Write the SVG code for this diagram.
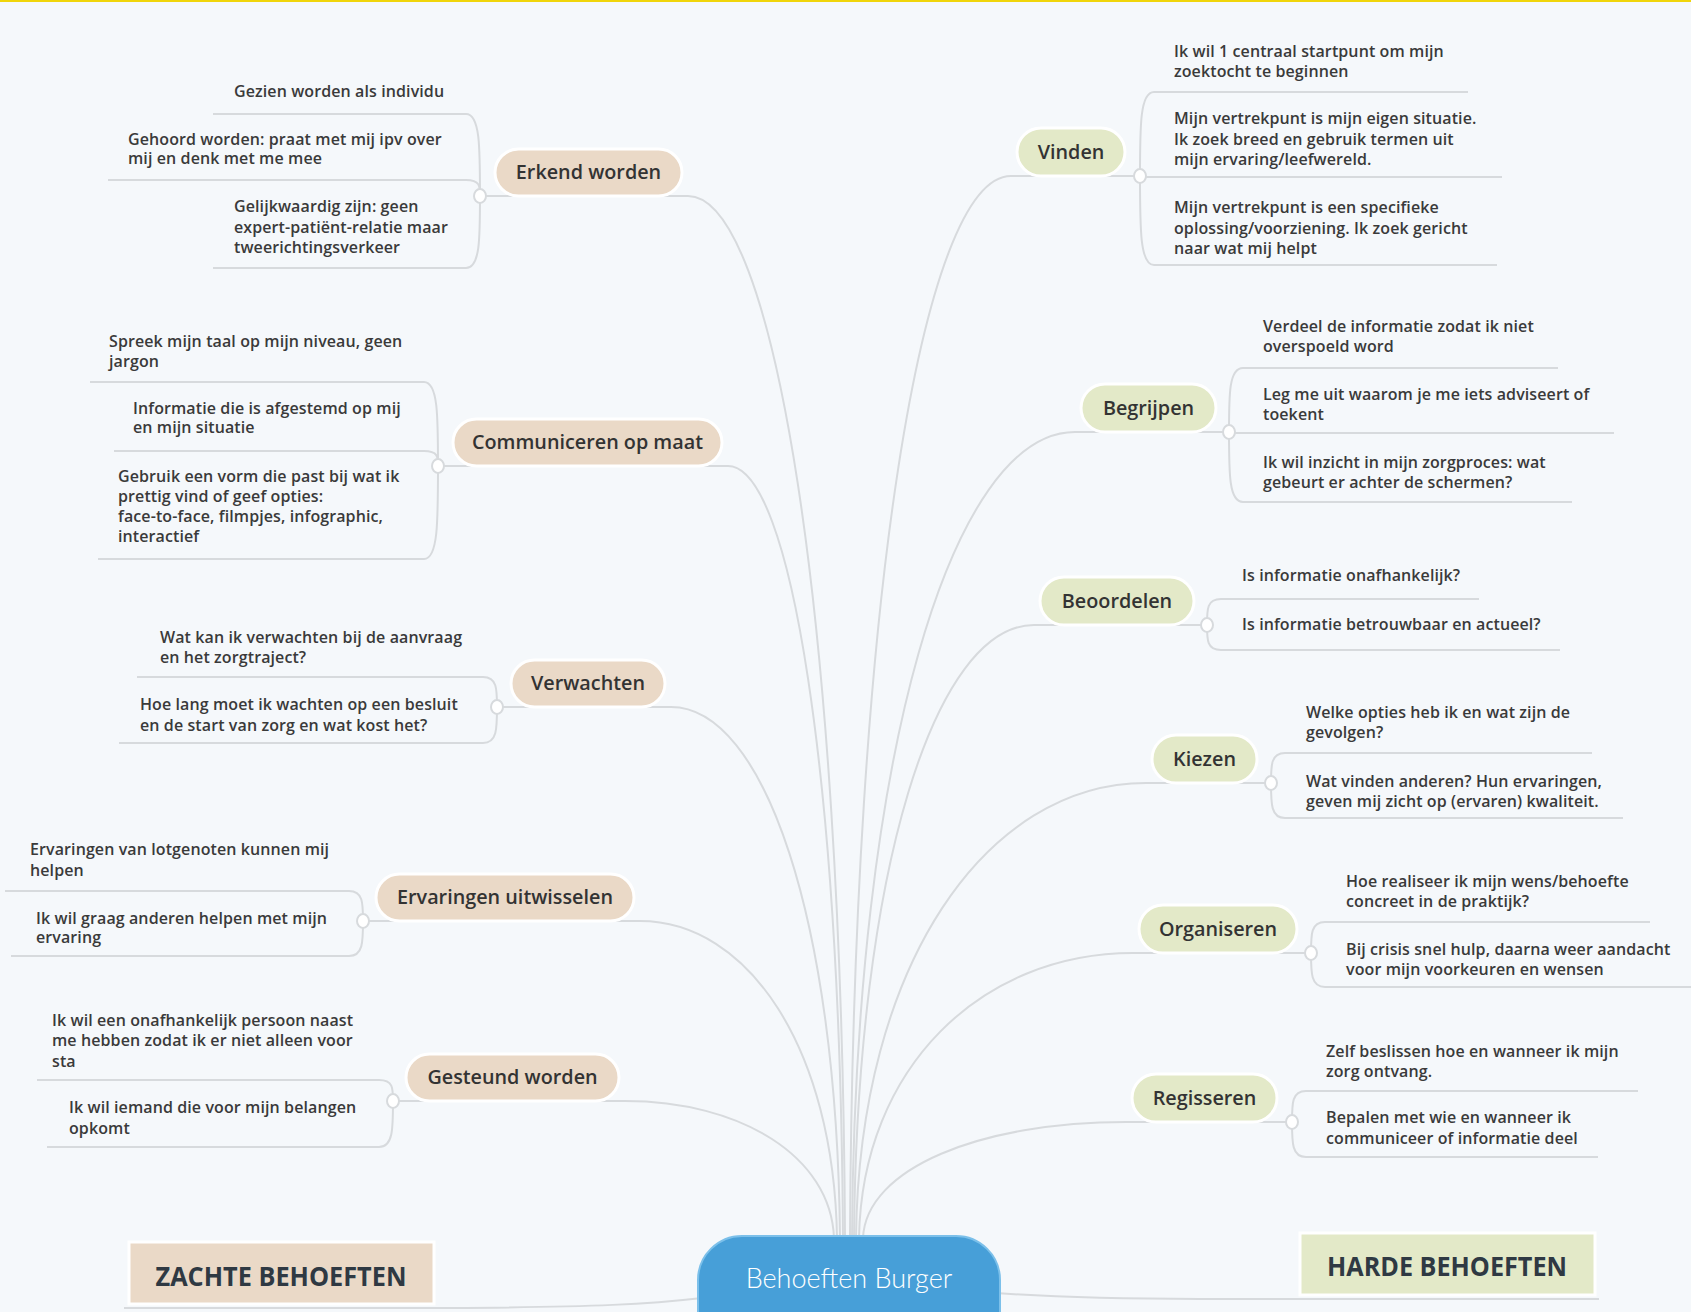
<svg xmlns="http://www.w3.org/2000/svg" width="1691" height="1312" viewBox="0 0 1691 1312">
<style>
.conn{fill:none;stroke:#d7dadd;stroke-width:2}
.dot{fill:#ffffff;stroke:#d7dadd;stroke-width:2}
.sub{font-family:"Open Sans","Liberation Sans",sans-serif;font-weight:600;font-size:16px;letter-spacing:0.1px;fill:#3a3a3a}
.soft{fill:#ead9c7;stroke:#ffffff;stroke-width:3}
.hard{fill:#e3e9c8;stroke:#ffffff;stroke-width:3}
.nt{font-family:"Open Sans","Liberation Sans",sans-serif;font-weight:600;font-size:19.8px;fill:#333333;text-anchor:middle}
.big{font-family:"Open Sans","Liberation Sans",sans-serif;font-weight:700;font-size:26px;fill:#2f3943;text-anchor:middle}
.root{font-family:Lato,"Open Sans",sans-serif;font-weight:300;font-size:27px;fill:#ffffff;text-anchor:middle}
</style>
<rect x="0" y="0" width="1691" height="1312" fill="#f5f8fb"/>
<rect x="0" y="0" width="1691" height="2" fill="#f0d50a"/>

<g id="connectors">
  <path class="conn" d="M480,196 H688 C774,196 842,613 845,1238"/>
  <path class="conn" d="M438,466 H728 C791,466 840,775 843,1238"/>
  <path class="conn" d="M497,707 H671 C764,707 837,919 840,1238"/>
  <path class="conn" d="M363,921 H640 C748,921 834,1048 837,1238"/>
  <path class="conn" d="M393,1101 H625 C740,1101 831,1156 834,1238"/>
  <path class="conn" d="M1140,176 H1011 C922,176 853,601 850,1238"/>
  <path class="conn" d="M1229,432 H1075 C952,432 855,754 852,1238"/>
  <path class="conn" d="M1207,625 H1034 C935,625 857,870 854,1238"/>
  <path class="conn" d="M1271,783 H1146 C986,783 859,965 856,1238"/>
  <path class="conn" d="M1311,953 H1133 C982,953 862,1067 859,1238"/>
  <path class="conn" d="M1292,1122 H1126 C981,1122 866,1168 863,1238"/>
  <path class="conn" d="M702,1298 C650,1304 600,1307 450,1308 H124"/>
  <path class="conn" d="M996,1293 C1050,1297 1100,1299 1200,1299 H1599"/>
  <path class="conn" d="M480,196 C480,147 480,114 466,114 H213"/>
  <path class="conn" d="M480,196 C480,186 480,180 466,180 H108"/>
  <path class="conn" d="M480,196 C480,239 480,268 466,268 H213"/>
  <path class="conn" d="M438,466 C438,416 438,382 424,382 H90"/>
  <path class="conn" d="M438,466 C438,457 438,451 424,451 H114"/>
  <path class="conn" d="M438,466 C438,522 438,559 424,559 H98"/>
  <path class="conn" d="M497,707 C497,689 497,677 483,677 H137"/>
  <path class="conn" d="M497,707 C497,729 497,743 483,743 H119"/>
  <path class="conn" d="M363,921 C363,903 363,891 349,891 H5"/>
  <path class="conn" d="M363,921 C363,942 363,956 349,956 H11"/>
  <path class="conn" d="M393,1101 C393,1088 393,1080 379,1080 H37"/>
  <path class="conn" d="M393,1101 C393,1129 393,1147 379,1147 H47"/>
  <path class="conn" d="M1140,176 C1140,126 1140,92 1154,92 H1468"/>
  <path class="conn" d="M1140,177 H1502"/>
  <path class="conn" d="M1140,176 C1140,229 1140,265 1154,265 H1497"/>
  <path class="conn" d="M1229,432 C1229,394 1229,368 1243,368 H1558"/>
  <path class="conn" d="M1229,433 H1614"/>
  <path class="conn" d="M1229,432 C1229,474 1229,502 1243,502 H1572"/>
  <path class="conn" d="M1207,625 C1207,609 1207,599 1221,599 H1479"/>
  <path class="conn" d="M1207,625 C1207,640 1207,650 1221,650 H1560"/>
  <path class="conn" d="M1271,783 C1271,765 1271,753 1285,753 H1592"/>
  <path class="conn" d="M1271,783 C1271,804 1271,818 1285,818 H1623"/>
  <path class="conn" d="M1311,953 C1311,934 1311,922 1325,922 H1650"/>
  <path class="conn" d="M1311,953 C1311,973 1311,987 1325,987 H1691"/>
  <path class="conn" d="M1292,1122 C1292,1103 1292,1091 1306,1091 H1638"/>
  <path class="conn" d="M1292,1122 C1292,1143 1292,1157 1306,1157 H1598"/>
  <ellipse class="dot" cx="480" cy="196" rx="6" ry="7"/>
  <ellipse class="dot" cx="438" cy="466" rx="6" ry="7"/>
  <ellipse class="dot" cx="497" cy="707" rx="6" ry="7"/>
  <ellipse class="dot" cx="363" cy="921" rx="6" ry="7"/>
  <ellipse class="dot" cx="393" cy="1101" rx="6" ry="7"/>
  <ellipse class="dot" cx="1140" cy="176" rx="6" ry="7"/>
  <ellipse class="dot" cx="1229" cy="432" rx="6" ry="7"/>
  <ellipse class="dot" cx="1207" cy="625" rx="6" ry="7"/>
  <ellipse class="dot" cx="1271" cy="783" rx="6" ry="7"/>
  <ellipse class="dot" cx="1311" cy="953" rx="6" ry="7"/>
  <ellipse class="dot" cx="1292" cy="1122" rx="6" ry="7"/>
</g>

<g id="root">
  <rect x="698" y="1236" width="302" height="120" rx="44" fill="#479fd8" stroke="#7cc0ea" stroke-width="2"/>
  <text class="root" x="849" y="1288">Behoeften Burger</text>
</g>

<g id="erkend-worden"><rect class="soft" x="495" y="149" width="187" height="47" rx="23.5"/><text class="nt" x="588.5" y="179">Erkend worden</text></g>
<g id="communiceren-op-maat"><rect class="soft" x="453" y="419" width="269" height="47" rx="23.5"/><text class="nt" x="587.5" y="449">Communiceren op maat</text></g>
<g id="verwachten"><rect class="soft" x="511" y="660" width="154" height="47" rx="23.5"/><text class="nt" x="588" y="690">Verwachten</text></g>
<g id="ervaringen-uitwisselen"><rect class="soft" x="376" y="874" width="258" height="47" rx="23.5"/><text class="nt" x="505" y="904">Ervaringen uitwisselen</text></g>
<g id="gesteund-worden"><rect class="soft" x="406" y="1054" width="213" height="47" rx="23.5"/><text class="nt" x="512.5" y="1084">Gesteund worden</text></g>
<g id="zachte-behoeften"><rect class="soft" x="129" y="1242" width="305" height="62"/><text class="big" x="281" y="1286" textLength="251" lengthAdjust="spacingAndGlyphs">ZACHTE BEHOEFTEN</text></g>

<g id="vinden"><rect class="hard" x="1017" y="128" width="108" height="48" rx="24"/><text class="nt" x="1071" y="159">Vinden</text></g>
<g id="begrijpen"><rect class="hard" x="1081" y="384" width="135" height="48" rx="24"/><text class="nt" x="1148.5" y="415">Begrijpen</text></g>
<g id="beoordelen"><rect class="hard" x="1040" y="577" width="154" height="48" rx="24"/><text class="nt" x="1117" y="608">Beoordelen</text></g>
<g id="kiezen"><rect class="hard" x="1152" y="735" width="105" height="48" rx="24"/><text class="nt" x="1204.5" y="766">Kiezen</text></g>
<g id="organiseren"><rect class="hard" x="1139" y="905" width="158" height="48" rx="24"/><text class="nt" x="1218" y="936">Organiseren</text></g>
<g id="regisseren"><rect class="hard" x="1132" y="1074" width="145" height="48" rx="24"/><text class="nt" x="1204.5" y="1105">Regisseren</text></g>
<g id="harde-behoeften"><rect class="hard" x="1300" y="1233" width="295" height="62"/><text class="big" x="1447" y="1276" textLength="240" lengthAdjust="spacingAndGlyphs">HARDE BEHOEFTEN</text></g>

<g id="erkend-1"><text class="sub" x="234" y="97">Gezien worden als individu</text></g>
<g id="erkend-2"><text class="sub" x="128" y="145">Gehoord worden: praat met mij ipv over</text><text class="sub" x="128" y="164">mij en denk met me mee</text></g>
<g id="erkend-3"><text class="sub" x="234" y="212">Gelijkwaardig zijn: geen</text><text class="sub" x="234" y="233">expert-patiënt-relatie maar</text><text class="sub" x="234" y="253">tweerichtingsverkeer</text></g>

<g id="comm-1"><text class="sub" x="109" y="347">Spreek mijn taal op mijn niveau, geen</text><text class="sub" x="109" y="367">jargon</text></g>
<g id="comm-2"><text class="sub" x="133" y="414">Informatie die is afgestemd op mij</text><text class="sub" x="133" y="433">en mijn situatie</text></g>
<g id="comm-3"><text class="sub" x="118" y="482">Gebruik een vorm die past bij wat ik</text><text class="sub" x="118" y="502">prettig vind of geef opties:</text><text class="sub" x="118" y="522">face-to-face, filmpjes, infographic,</text><text class="sub" x="118" y="542">interactief</text></g>

<g id="verw-1"><text class="sub" x="160" y="643">Wat kan ik verwachten bij de aanvraag</text><text class="sub" x="160" y="663">en het zorgtraject?</text></g>
<g id="verw-2"><text class="sub" x="140" y="710">Hoe lang moet ik wachten op een besluit</text><text class="sub" x="140" y="731">en de start van zorg en wat kost het?</text></g>

<g id="erv-1"><text class="sub" x="30" y="855">Ervaringen van lotgenoten kunnen mij</text><text class="sub" x="30" y="876">helpen</text></g>
<g id="erv-2"><text class="sub" x="36" y="924">Ik wil graag anderen helpen met mijn</text><text class="sub" x="36" y="943">ervaring</text></g>

<g id="gest-1"><text class="sub" x="52" y="1026">Ik wil een onafhankelijk persoon naast</text><text class="sub" x="52" y="1046">me hebben zodat ik er niet alleen voor</text><text class="sub" x="52" y="1067">sta</text></g>
<g id="gest-2"><text class="sub" x="69" y="1113">Ik wil iemand die voor mijn belangen</text><text class="sub" x="69" y="1134">opkomt</text></g>

<g id="vind-1"><text class="sub" x="1174" y="57">Ik wil 1 centraal startpunt om mijn</text><text class="sub" x="1174" y="77">zoektocht te beginnen</text></g>
<g id="vind-2"><text class="sub" x="1174" y="124">Mijn vertrekpunt is mijn eigen situatie.</text><text class="sub" x="1174" y="145">Ik zoek breed en gebruik termen uit</text><text class="sub" x="1174" y="165">mijn ervaring/leefwereld.</text></g>
<g id="vind-3"><text class="sub" x="1174" y="213">Mijn vertrekpunt is een specifieke</text><text class="sub" x="1174" y="234">oplossing/voorziening. Ik zoek gericht</text><text class="sub" x="1174" y="254">naar wat mij helpt</text></g>

<g id="begr-1"><text class="sub" x="1263" y="332">Verdeel de informatie zodat ik niet</text><text class="sub" x="1263" y="352">overspoeld word</text></g>
<g id="begr-2"><text class="sub" x="1263" y="400">Leg me uit waarom je me iets adviseert of</text><text class="sub" x="1263" y="420">toekent</text></g>
<g id="begr-3"><text class="sub" x="1263" y="468">Ik wil inzicht in mijn zorgproces: wat</text><text class="sub" x="1263" y="488">gebeurt er achter de schermen?</text></g>

<g id="beoo-1"><text class="sub" x="1242" y="581">Is informatie onafhankelijk?</text></g>
<g id="beoo-2"><text class="sub" x="1242" y="630">Is informatie betrouwbaar en actueel?</text></g>

<g id="kiez-1"><text class="sub" x="1306" y="718">Welke opties heb ik en wat zijn de</text><text class="sub" x="1306" y="738">gevolgen?</text></g>
<g id="kiez-2"><text class="sub" x="1306" y="787">Wat vinden anderen? Hun ervaringen,</text><text class="sub" x="1306" y="807">geven mij zicht op (ervaren) kwaliteit.</text></g>

<g id="org-1"><text class="sub" x="1346" y="887">Hoe realiseer ik mijn wens/behoefte</text><text class="sub" x="1346" y="907">concreet in de praktijk?</text></g>
<g id="org-2"><text class="sub" x="1346" y="955">Bij crisis snel hulp, daarna weer aandacht</text><text class="sub" x="1346" y="975">voor mijn voorkeuren en wensen</text></g>

<g id="reg-1"><text class="sub" x="1326" y="1057">Zelf beslissen hoe en wanneer ik mijn</text><text class="sub" x="1326" y="1077">zorg ontvang.</text></g>
<g id="reg-2"><text class="sub" x="1326" y="1123">Bepalen met wie en wanneer ik</text><text class="sub" x="1326" y="1144">communiceer of informatie deel</text></g>
</svg>
